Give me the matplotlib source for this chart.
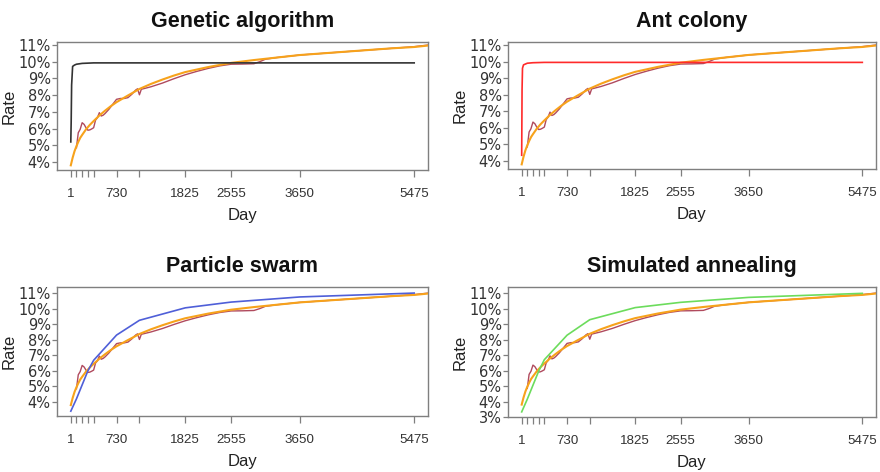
import matplotlib
matplotlib.use("Agg")
import matplotlib.pyplot as plt
from matplotlib.ticker import FixedLocator, FixedFormatter

plt.rcParams['font.family'] = ['Liberation Sans', 'DejaVu Sans']

# Maturity axis (days)
tick_days = [1, 91, 182, 273, 365, 730, 1095, 1825, 2555, 3650, 5475]
tick_labels = ['1', '', '', '', '', '730', '', '1825', '2555', '3650', '5475']

# Observed market curve (%)
obs_days = [91, 120, 150, 182, 213, 243, 273, 304, 335, 365, 395, 425, 456, 486,
            517, 547, 608, 669, 730, 791, 852, 912, 973, 1034, 1065, 1095, 1125,
            1278, 1460, 1643, 1825, 2008, 2190, 2373, 2555, 2738, 2920, 3012,
            3103, 3285, 3650, 4015, 4380, 4745, 5110, 5475, 5700]
obs_rate = [4.85, 5.75, 5.95, 6.35, 6.25, 6.05, 5.9, 5.92, 5.98, 6.05, 6.5, 6.65,
            6.95, 6.75, 6.8, 6.9, 7.15, 7.45, 7.75, 7.8, 7.8, 7.85, 8.05, 8.3,
            8.38, 8.02, 8.35, 8.5, 8.72, 8.98, 9.22, 9.42, 9.6, 9.75, 9.85, 9.86,
            9.88, 10.0, 10.15, 10.25, 10.4, 10.5, 10.6, 10.7, 10.8, 10.9, 11.0]

# Smooth fitted reference curve (%)
fit_days = [1, 30, 61, 91, 122, 152, 182, 243, 304, 365, 456, 547, 639, 730,
            912, 1095, 1278, 1460, 1643, 1825, 2190, 2555, 2920, 3285, 3650,
            4015, 4380, 4745, 5110, 5475, 5700]
fit_rate = [3.8, 4.25, 4.65, 4.95, 5.22, 5.45, 5.62, 5.95, 6.22, 6.45, 6.78,
            7.07, 7.34, 7.58, 7.98, 8.37, 8.67, 8.93, 9.17, 9.38, 9.68, 9.93,
            10.1, 10.25, 10.4, 10.5, 10.6, 10.7, 10.8, 10.88, 10.97]

# Curves produced by each optimiser (%)
ga_days = [1, 7, 14, 30, 60, 91, 182, 365, 5475]
ga_rate = [5.2, 6.4, 8.6, 9.72, 9.8, 9.85, 9.9, 9.93, 9.93]

aco_days = [1, 7, 14, 30, 60, 91, 182, 365, 5475]
aco_rate = [4.35, 8.3, 9.6, 9.8, 9.85, 9.9, 9.93, 9.95, 9.95]

pso_days = [1, 91, 182, 273, 365, 730, 1095, 1825, 2555, 3650, 5475]
pso_rate = [3.41, 4.2, 5.1, 6.0, 6.68, 8.3, 9.25, 10.05, 10.42, 10.75, 11.0]

sa_days = [1, 91, 182, 273, 365, 730, 1095, 1825, 2555, 3650, 5475]
sa_rate = [3.33, 4.15, 5.05, 5.95, 6.7, 8.28, 9.28, 10.06, 10.4, 10.72, 10.98]

panels = [
    ("Genetic algorithm", ga_days, ga_rate, "#333333",
     [57, 42, 428, 170], (3.52, 11.18), [4, 5, 6, 7, 8, 9, 10, 11]),
    ("Ant colony", aco_days, aco_rate, "#ff2a2a",
     [508, 42, 876, 169], (3.52, 11.18), [4, 5, 6, 7, 8, 9, 10, 11]),
    ("Particle swarm", pso_days, pso_rate, "#4f5fd8",
     [57, 287, 428, 416], (3.10, 11.39), [4, 5, 6, 7, 8, 9, 10, 11]),
    ("Simulated annealing", sa_days, sa_rate, "#6cdc5c",
     [508, 287, 876, 417], (3.0, 11.39), [3, 4, 5, 6, 7, 8, 9, 10, 11]),
]

W, H = 880, 472
fig = plt.figure(figsize=(W / 100, H / 100), dpi=100)
spine_col = "#7f7f7f"

for title, d, r, col, box, ylim, yt in panels:
    x0, y0, x1, y1 = box
    ax = fig.add_axes([x0 / W, 1 - y1 / H, (x1 - x0) / W, (y1 - y0) / H])
    ax.plot(obs_days, obs_rate, color="#b04a5e", lw=1.0, zorder=2)
    ax.plot(fit_days, fit_rate, color="#f7a21b", lw=1.5, zorder=3)
    ax.plot(d, r, color=col, lw=1.2, zorder=4)

    ax.set_xlim(-219, 5695)
    ax.set_ylim(*ylim)
    ax.xaxis.set_major_locator(FixedLocator(tick_days))
    ax.xaxis.set_major_formatter(FixedFormatter(tick_labels))
    ax.set_yticks(yt)
    ax.set_yticklabels([f"{v}%" for v in yt], family=['DejaVu Sans'],
                       fontsize=10.5, color="#333333")
    for lab in ax.get_xticklabels():
        lab.set_fontsize(9.6)
        lab.set_color("#333333")

    for s in ax.spines.values():
        s.set_color(spine_col)
        s.set_linewidth(1.0)
    ax.tick_params(axis='x', direction='out', length=5, width=0.9,
                   color=spine_col, pad=8)
    ax.tick_params(axis='y', direction='out', length=3.5, width=0.9,
                   color=spine_col, pad=1)

    ax.set_title(title, fontsize=15.5, fontweight='bold', pad=11, color="#111111")
    ax.set_xlabel("Day", fontsize=12, labelpad=6, color="#222222")
    ax.set_ylabel("Rate", fontsize=12, labelpad=1, color="#222222")

fig.savefig("out.png", dpi=100)
